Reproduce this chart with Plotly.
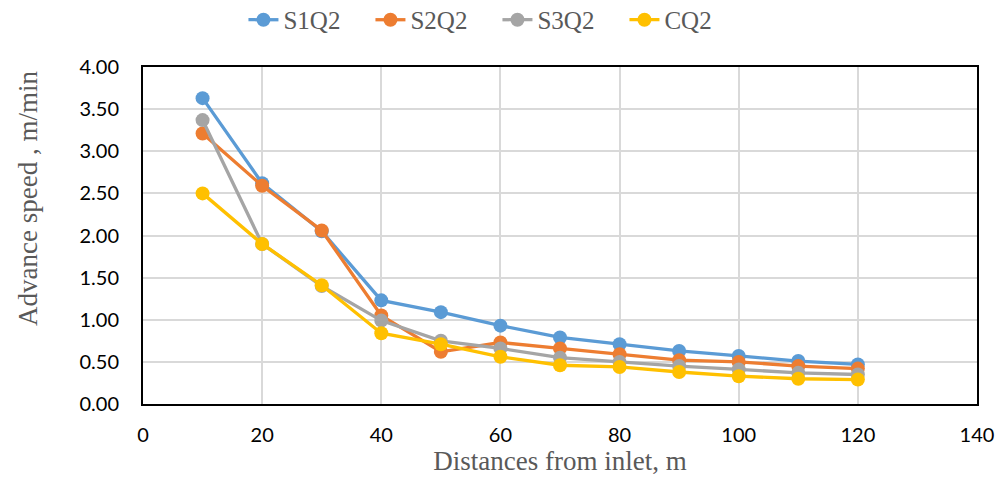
import plotly.graph_objects as go

distances = [10, 20, 30, 40, 50, 60, 70, 80, 90, 100, 110, 120]
s1q2 = [3.63, 2.62, 2.05, 1.23, 1.09, 0.93, 0.79, 0.71, 0.63, 0.57, 0.51, 0.47]
s2q2 = [3.21, 2.59, 2.06, 1.05, 0.62, 0.73, 0.66, 0.59, 0.52, 0.50, 0.45, 0.42]
s3q2 = [3.37, 1.90, 1.40, 0.99, 0.75, 0.66, 0.55, 0.50, 0.45, 0.41, 0.37, 0.35]
cq2 = [2.50, 1.90, 1.41, 0.84, 0.71, 0.56, 0.46, 0.44, 0.38, 0.33, 0.30, 0.29]

series = [
    ("S1Q2", s1q2, "#5B9BD5"),
    ("S2Q2", s2q2, "#ED7D31"),
    ("S3Q2", s3q2, "#A5A5A5"),
    ("CQ2", cq2, "#FFC000"),
]

fig = go.Figure()
for name, vals, color in series:
    fig.add_trace(go.Scatter(
        x=distances, y=vals, name=name, mode="lines+markers",
        line=dict(color=color, width=3.3),
        marker=dict(color=color, size=14),
    ))

tick_font = dict(family="Lato, Carlito, Calibri, sans-serif", size=20, color="#000000")
title_font = dict(family="Liberation Serif, Times New Roman, serif", size=27, color="#595959")

fig.update_layout(
    width=997, height=487,
    margin=dict(l=143, r=20, t=67, b=83),
    paper_bgcolor="white", plot_bgcolor="white",
    showlegend=True,
    legend=dict(
        orientation="h", x=0.425, xanchor="center", y=0.959, yanchor="middle",
        yref="container",
        font=dict(family="Liberation Serif, Times New Roman, serif", size=25, color="#595959"),
        entrywidth=82, traceorder="normal",
    ),
    xaxis=dict(
        range=[0, 140], dtick=20, tick0=0, automargin=False,
        showgrid=True, gridcolor="#D9D9D9", gridwidth=1.5,
        zeroline=False, showline=True, linecolor="black", linewidth=2, mirror=True,
        ticks="", tickfont=tick_font, ticklabelstandoff=12,
        title=dict(text="Distances from inlet, m", font=title_font, standoff=5),
    ),
    yaxis=dict(
        range=[0, 4], dtick=0.5, tick0=0, tickformat=".2f", automargin=False,
        showgrid=True, gridcolor="#D9D9D9", gridwidth=1.5,
        zeroline=False, showline=True, linecolor="black", linewidth=2, mirror=True,
        ticks="", tickfont=tick_font, ticklabelstandoff=18,
    ),
    annotations=[dict(
        text="Advance speed , m/min", textangle=-90, showarrow=False,
        xref="paper", yref="paper", x=-0.138, y=0.611,
        xanchor="center", yanchor="middle", font=title_font,
    )],
)

fig.write_html("out.html")
